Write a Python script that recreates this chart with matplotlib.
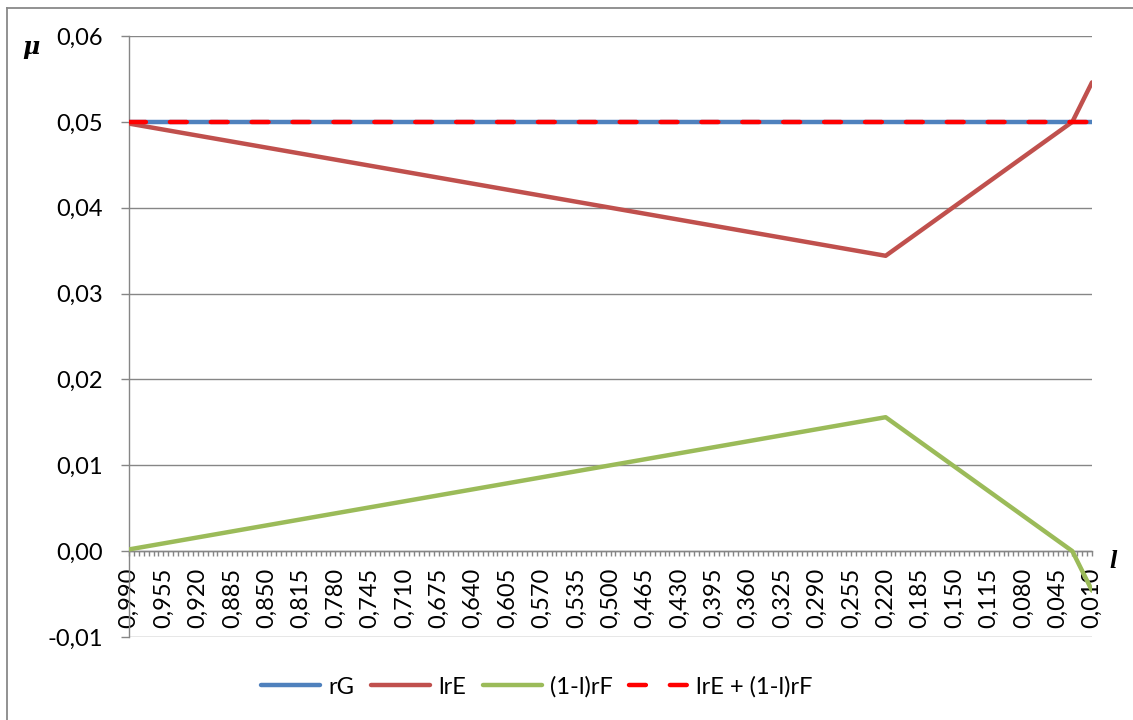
import numpy as np
import matplotlib
matplotlib.use("Agg")
import matplotlib.pyplot as plt
from matplotlib.lines import Line2D
from matplotlib.ticker import FixedLocator, FixedFormatter

# ---- data ----
l_range = [0.99, 0.01]
rG = [0.05, 0.05]
l_pts = [0.99, 0.22, 0.03, 0.01]
lrE = [0.0498, 0.0344, 0.0500, 0.0546]
one_minus_l_rF = [0.0002, 0.0156, 0.0000, -0.0046]
total = [0.05, 0.05]

x_tick_values = [0.990, 0.955, 0.920, 0.885, 0.850, 0.815, 0.780, 0.745, 0.710,
                 0.675, 0.640, 0.605, 0.570, 0.535, 0.500, 0.465, 0.430, 0.395,
                 0.360, 0.325, 0.290, 0.255, 0.220, 0.185, 0.150, 0.115, 0.080,
                 0.045, 0.010]
x_tick_labels = [f"{v:.3f}".replace('.', ',') for v in x_tick_values]
y_tick_values = [-0.01, 0.0, 0.01, 0.02, 0.03, 0.04, 0.05, 0.06]
y_tick_labels = [f"{v:.2f}".replace('.', ',') for v in y_tick_values]

series_names = ["rG", "lrE", "(1-l)rF", "lrE + (1-l)rF"]
c_blue, c_red, c_green, c_dash = "#4F81BD", "#C0504D", "#9BBB59", "#FF0000"

plt.rcParams['font.family'] = ['Lato', 'DejaVu Sans']
W, H = 1133, 720
fig = plt.figure(figsize=(W / 100, H / 100), dpi=100)
ax = fig.add_axes([129 / W, 1 - 637 / H, (1092 - 129) / W, (637 - 36) / H])

grey = "#868686"
lw = 3.2
ax.plot(l_range, rG, color=c_blue, lw=lw, solid_capstyle='round', zorder=3)
ax.plot(l_pts, lrE, color=c_red, lw=lw, solid_capstyle='round',
        solid_joinstyle='round', zorder=4)
ax.plot(l_pts, one_minus_l_rF, color=c_green, lw=lw, solid_capstyle='round',
        solid_joinstyle='round', zorder=5)
dl, = ax.plot(l_range, total, color=c_dash, lw=lw, dash_capstyle='round', zorder=6)
dl.set_dashes((3.8, 5.4))

ax.set_xlim(0.99, 0.01)
ax.set_ylim(-0.01, 0.06)

# spines
for s in ['top', 'right']:
    ax.spines[s].set_visible(False)
ax.spines['left'].set_color(grey)
ax.spines['left'].set_linewidth(1.0)
ax.spines['bottom'].set_position(('data', 0))
ax.spines['bottom'].set_color(grey)
ax.spines['bottom'].set_linewidth(1.0)
ax.spines['bottom'].set_zorder(2)

# y axis
ax.yaxis.set_major_locator(FixedLocator(y_tick_values))
ax.yaxis.set_major_formatter(FixedFormatter(y_tick_labels))
ax.tick_params(axis='y', direction='out', length=5.8, width=1.0, color=grey,
               labelsize=17, pad=13, labelcolor='black')
ax.grid(axis='y', color=grey, lw=1.0, zorder=1)
ax.set_axisbelow(True)

# x axis
ax.xaxis.set_major_locator(FixedLocator(x_tick_values))
ax.xaxis.set_major_formatter(FixedFormatter(x_tick_labels))
minor_pos = np.round(np.arange(0.990, 0.0099, -0.005), 3)
ax.xaxis.set_minor_locator(FixedLocator(minor_pos))
ax.tick_params(axis='x', which='both', direction='out', length=3.8, width=1.0,
               color=grey)
ax.tick_params(axis='x', which='major', labelsize=17, labelrotation=90, pad=8)
for t in ax.get_xticklabels():
    t.set_rotation(90)

# axis symbols
fig.text(31 / W, 1 - 47 / H, "μ", fontsize=17, fontweight='bold', fontstyle='italic',
         family=['DejaVu Serif'], ha='center', va='center')
fig.text(1113 / W, 1 - 561 / H, "l", fontsize=19, fontweight='bold', fontstyle='italic',
         family=['Liberation Serif'], ha='center', va='center')

# outer border (left and top)
border_c = "#898989"
fig.add_artist(Line2D([7 / W, 7 / W], [0, 1 - 8 / H], transform=fig.transFigure,
                      color=border_c, lw=1.3))
fig.add_artist(Line2D([7 / W, 1], [1 - 8 / H, 1 - 8 / H], transform=fig.transFigure,
                      color=border_c, lw=1.3))

# legend
h1 = Line2D([], [], color=c_blue, lw=lw, solid_capstyle='round')
h2 = Line2D([], [], color=c_red, lw=lw, solid_capstyle='round')
h3 = Line2D([], [], color=c_green, lw=lw, solid_capstyle='round')
h4 = Line2D([], [], color=c_dash, lw=lw, dash_capstyle='round')
h4.set_dashes((3.8, 5.4))
fig.legend([h1, h2, h3, h4], series_names, loc='center', ncol=4,
           bbox_to_anchor=(537 / W, 1 - 687 / H), frameon=False, fontsize=17,
           handlelength=2.5, handletextpad=0.35, columnspacing=0.7)

fig.savefig("out.png", dpi=100)
